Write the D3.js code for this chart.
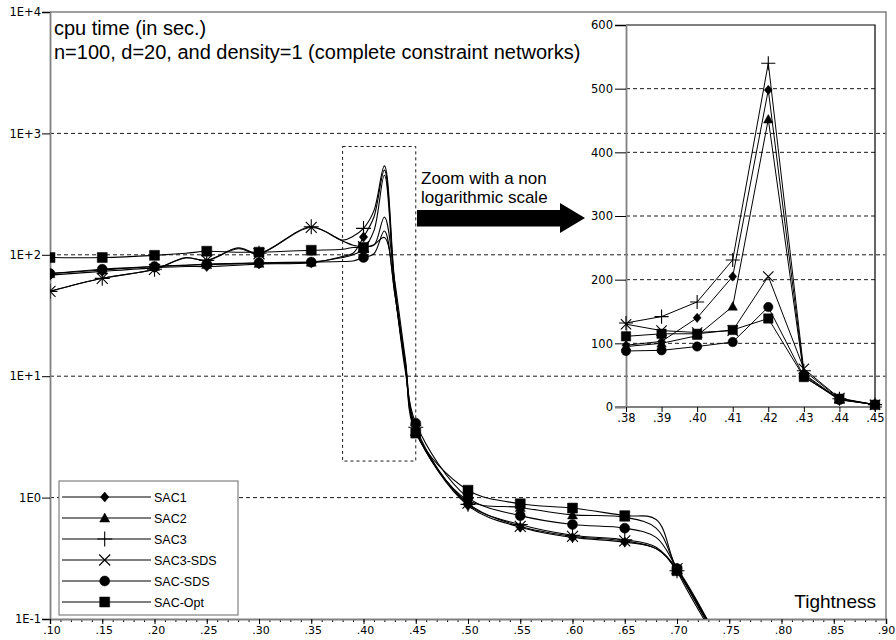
<!DOCTYPE html>
<html>
<head>
<meta charset="utf-8">
<script src="https://cdn.jsdelivr.net/npm/d3@7"></script>
<style>
  body { margin: 0; background: #fff; }
  svg { display: block; }
</style>
</head>
<body>
<svg id="chart" width="896" height="640"></svg>
<script>
// tightness values (x) and cpu time (sec.) per algorithm
const tightness = [0.10, 0.15, 0.20, 0.23, 0.25, 0.28, 0.30, 0.35, 0.38, 0.39, 0.40, 0.41, 0.42, 0.43, 0.44, 0.45, 0.50, 0.55, 0.60, 0.65, 0.68, 0.70, 0.75];
const sac1    = [68, 73, 78, 80, 80, 82, 84, 86, 97, 103, 140, 205, 498, 52, 12, 3.6, 0.86, 0.57, 0.47, 0.43, 0.38, 0.25, 0.045];
const sac2    = [70, 75, 80, 82, 83, 84, 85, 87, 95, 100, 112, 158, 452, 50, 12, 3.5, 0.95, 0.83, 0.72, 0.69, 0.56, 0.26, 0.045];
const sac3    = [50, 64, 76, 95, 90, 114, 103, 170, 132, 142, 165, 231, 540, 57, 13, 3.8, 0.88, 0.60, 0.49, 0.45, 0.39, 0.25, 0.045];
const sac3Sds = [50, 64, 76, 94, 90, 112, 102, 168, 130, 120, 117, 120, 205, 60, 14, 3.6, 0.90, 0.58, 0.48, 0.44, 0.38, 0.26, 0.045];
const sacSds  = [70, 76, 80, 82, 84, 85, 86, 87, 88, 89, 95, 102, 157, 48, 11, 4.1, 1.00, 0.71, 0.60, 0.56, 0.47, 0.26, 0.045];
const sacOpt  = [95, 95, 99, 103, 107, 105, 105, 109, 111, 115, 115, 121, 139, 47, 13, 3.4, 1.15, 0.89, 0.82, 0.71, 0.66, 0.25, 0.045];

const seriesNames = ["SAC1", "SAC2", "SAC3", "SAC3-SDS", "SAC-SDS", "SAC-Opt"];
const seriesValues = [sac1, sac2, sac3, sac3Sds, sacSds, sacOpt];
const markerTypes = ["diamond", "triangle", "plus", "cross", "circle", "square"];

const logTicks = [0.1, 1, 10, 100, 1000, 10000];
const logTickLabels = ["1E-1", "1E0", "1E+1", "1E+2", "1E+3", "1E+4"];
const xMajorTicks = [0.10, 0.15, 0.20, 0.25, 0.30, 0.35, 0.40, 0.45, 0.50, 0.55, 0.60, 0.65, 0.70, 0.75, 0.80, 0.85, 0.90];
const insetXTicks = [0.38, 0.39, 0.40, 0.41, 0.42, 0.43, 0.44, 0.45];
const insetYTicks = [0, 100, 200, 300, 400, 500, 600];

const svg = d3.select("#chart");
const labelFont = "'DejaVu Sans', sans-serif";
const textFont = "'Liberation Sans', Arial, sans-serif";
const gray = "#808080";

const series = seriesNames.map((name, i) => ({
    name,
    marker: markerTypes[i],
    values: tightness.map((t, j) => ({ t, v: seriesValues[i][j] }))
}));

// main chart scales
const plot = { left: 50, right: 886, top: 12, bottom: 619 };
const x = d3.scaleLinear().domain([0.10, 0.90]).range([plot.left, plot.right]);
const y = d3.scaleLog().domain([0.1, 10000]).range([plot.bottom, plot.top]);

// inset scales
const inset = { left: 626, right: 875, top: 25, bottom: 407 };
const xi = d3.scaleLinear().domain([0.38, 0.45]).range([inset.left, inset.right]);
const yi = d3.scaleLinear().domain([0, 600]).range([inset.bottom, inset.top]);

function markerPath(type, s) {
    switch (type) {
        case "diamond": return `M0,${-s}L${s * 0.85},0L0,${s}L${-s * 0.85},0Z`;
        case "triangle": return `M0,${-s}L${s},${s * 0.8}L${-s},${s * 0.8}Z`;
        case "plus": return `M${-s * 1.5},0H${s * 1.5}M0,${-s * 1.5}V${s * 1.5}`;
        case "cross": return `M${-s * 1.1},${-s * 1.1}L${s * 1.1},${s * 1.1}M${-s * 1.1},${s * 1.1}L${s * 1.1},${-s * 1.1}`;
        case "circle": return `M${s},0A${s},${s} 0 1,1 ${-s},0A${s},${s} 0 1,1 ${s},0Z`;
        default: return `M${-s},${-s}H${s}V${s}H${-s}Z`;
    }
}
const isStroke = type => type === "plus" || type === "cross";

function drawMarker(g, type, cx, cy, s) {
    g.append("path")
        .attr("transform", `translate(${cx},${cy})`)
        .attr("d", markerPath(type, s))
        .attr("fill", isStroke(type) ? "none" : "#000")
        .attr("stroke", "#000")
        .attr("stroke-width", isStroke(type) ? 1.1 : 0.5);
}

// gridlines
svg.append("g")
    .selectAll("line")
    .data(logTicks.slice(1, -1))
    .join("line")
    .attr("x1", plot.left).attr("x2", plot.right)
    .attr("y1", d => y(d)).attr("y2", d => y(d))
    .attr("stroke", "#000")
    .attr("stroke-width", 0.9)
    .attr("stroke-dasharray", "4,3");

svg.append("g")
    .selectAll("line")
    .data(insetYTicks.slice(1, -1))
    .join("line")
    .attr("x1", inset.left).attr("x2", inset.right)
    .attr("y1", d => yi(d)).attr("y2", d => yi(d))
    .attr("stroke", "#000")
    .attr("stroke-width", 0.9)
    .attr("stroke-dasharray", "4,3");

// frame
svg.append("path")
    .attr("d", `M${plot.left},${plot.top}H${plot.right}V${plot.bottom}`)
    .attr("fill", "none")
    .attr("stroke", gray)
    .attr("stroke-width", 1.5);

// main y axis
const yAxis = svg.append("g")
    .attr("transform", `translate(${plot.left},0)`)
    .call(d3.axisLeft(y).tickValues(logTicks).tickSize(8).tickPadding(1)
        .tickFormat((d, i) => logTickLabels[i]));
yAxis.select(".domain").attr("stroke", gray).attr("stroke-width", 1.8);
yAxis.selectAll(".tick line").attr("stroke", "#000");
yAxis.selectAll("text").attr("font-family", labelFont).attr("font-size", 11.5).attr("fill", "#000");

// main x axis: minor then major ticks
const minorTicks = d3.range(10, 91).map(d => d / 100);
svg.append("g")
    .attr("transform", `translate(0,${plot.bottom})`)
    .call(d3.axisBottom(x).tickValues(minorTicks).tickSize(3).tickFormat(""))
    .call(g => g.select(".domain").remove())
    .selectAll(".tick line").attr("stroke", "#000");

const xAxis = svg.append("g")
    .attr("transform", `translate(0,${plot.bottom})`)
    .call(d3.axisBottom(x).tickValues(xMajorTicks).tickSize(5).tickPadding(2)
        .tickFormat(d => d3.format(".2f")(d).replace(/^0/, "")));
xAxis.select(".domain").attr("stroke", gray).attr("stroke-width", 1.8);
xAxis.selectAll(".tick line").attr("stroke", "#000");
xAxis.selectAll("text").attr("font-family", labelFont).attr("font-size", 11).attr("fill", "#000")
    .attr("dx", d => d >= 0.9 ? 0 : 1.5);

// zoom box
svg.append("rect")
    .attr("x", x(0.38)).attr("y", y(780))
    .attr("width", x(0.45) - x(0.38)).attr("height", y(2) - y(780))
    .attr("fill", "none")
    .attr("stroke", "#000")
    .attr("stroke-width", 0.9)
    .attr("stroke-dasharray", "3,3");

// main lines
svg.append("clipPath").attr("id", "clip")
    .append("rect")
    .attr("x", plot.left).attr("y", plot.top)
    .attr("width", plot.right - plot.left).attr("height", plot.bottom - plot.top);

const line = d3.line()
    .x(d => x(d.t))
    .y(d => y(d.v))
    .curve(d3.curveCatmullRom.alpha(0.5));

const mainG = svg.append("g").attr("clip-path", "url(#clip)");
mainG.selectAll(".line-main")
    .data(series)
    .join("path")
    .attr("class", "line-main")
    .attr("fill", "none")
    .attr("stroke", "#000")
    .attr("stroke-width", 1.1)
    .attr("d", d => line(d.values));

series.forEach(s => {
    s.values
        .filter(d => Math.round(d.t * 100) % 5 === 0 && d.t <= 0.70)
        .forEach(d => drawMarker(mainG, s.marker, x(d.t), y(d.v), 5));
});

// inset
const insetLine = d3.line().x(d => xi(d.t)).y(d => yi(d.v));
const insetG = svg.append("g");

insetG.append("path")
    .attr("d", `M${inset.left},${inset.top}H${inset.right}V${inset.bottom}`)
    .attr("fill", "none")
    .attr("stroke", "#000")
    .attr("stroke-width", 1.2);

const yiAxis = insetG.append("g")
    .attr("transform", `translate(${inset.left},0)`)
    .call(d3.axisLeft(yi).tickValues(insetYTicks).tickSize(11).tickPadding(2));
yiAxis.select(".domain").attr("stroke", gray).attr("stroke-width", 1.8);
yiAxis.selectAll(".tick line").attr("stroke", "#000");
yiAxis.selectAll("text").attr("font-family", labelFont).attr("font-size", 11.5).attr("fill", "#000");

const xiAxis = insetG.append("g")
    .attr("transform", `translate(0,${inset.bottom})`)
    .call(d3.axisBottom(xi).tickValues(insetXTicks).tickSize(5).tickPadding(2)
        .tickFormat(d => d3.format(".2f")(d).replace(/^0/, "")));
xiAxis.select(".domain").attr("d", `M${inset.left - 11},0H${inset.right + 7}`)
    .attr("stroke", gray).attr("stroke-width", 1.8);
xiAxis.selectAll(".tick line").attr("stroke", "#000");
xiAxis.selectAll("text").attr("font-family", labelFont).attr("font-size", 11.5).attr("fill", "#000");

const insetSeries = series.map(s => ({ ...s, values: s.values.filter(d => d.t >= 0.375 && d.t <= 0.455) }));
insetG.selectAll(".line-inset")
    .data(insetSeries)
    .join("path")
    .attr("class", "line-inset")
    .attr("fill", "none")
    .attr("stroke", "#000")
    .attr("stroke-width", 1)
    .attr("d", d => insetLine(d.values));

insetSeries.forEach(s => {
    s.values.forEach(d => drawMarker(insetG, s.marker, xi(d.t), yi(d.v), 4.7));
});

// arrow + annotation
svg.append("path")
    .attr("d", "M417,210H560V203L585,218L560,233V226.5H417Z")
    .attr("fill", "#000");

svg.append("text")
    .attr("font-family", textFont).attr("font-size", 17)
    .selectAll("tspan")
    .data(["Zoom with a non", "logarithmic scale"])
    .join("tspan")
    .attr("x", 421)
    .attr("y", (d, i) => 184 + i * 19)
    .text(d => d);

// titles
svg.append("text")
    .attr("font-family", textFont).attr("font-size", 20)
    .selectAll("tspan")
    .data(["cpu time (in sec.)", "n=100, d=20, and density=1 (complete constraint networks)"])
    .join("tspan")
    .attr("x", 54)
    .attr("y", (d, i) => 35 + i * 23.5)
    .text(d => d);

svg.append("text")
    .attr("x", 876).attr("y", 608)
    .attr("text-anchor", "end")
    .attr("font-family", textFont).attr("font-size", 19)
    .text("Tightness");

// legend
const legend = svg.append("g");
legend.append("rect")
    .attr("x", 59).attr("y", 481)
    .attr("width", 179).attr("height", 134)
    .attr("fill", "#fff")
    .attr("stroke", gray)
    .attr("stroke-width", 1.2);

series.forEach((s, i) => {
    const ly = 497 + i * 21;
    legend.append("line")
        .attr("x1", 62).attr("x2", 151)
        .attr("y1", ly).attr("y2", ly)
        .attr("stroke", "#000")
        .attr("stroke-width", 1.1);
    drawMarker(legend, s.marker, 104.7, ly, 5);
    legend.append("text")
        .attr("x", 154).attr("y", ly + 4.5)
        .attr("font-family", textFont).attr("font-size", 12.5)
        .text(s.name);
});
</script>
</body>
</html>
